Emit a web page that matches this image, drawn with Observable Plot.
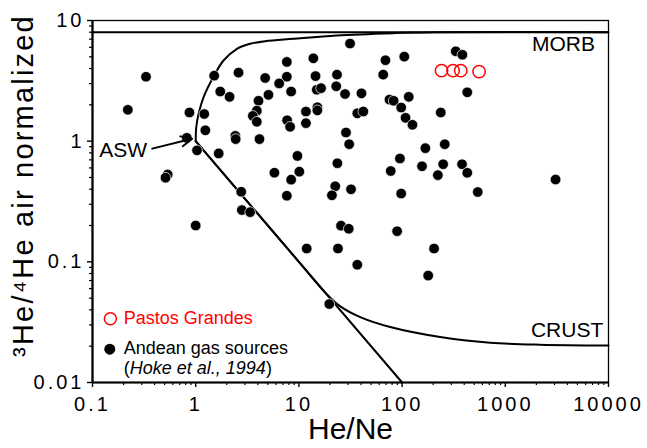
<!DOCTYPE html>
<html>
<head>
<meta charset="utf-8">
<script src="https://cdn.jsdelivr.net/npm/d3@7"></script>
<script src="https://cdn.jsdelivr.net/npm/@observablehq/plot@0.6"></script>
<style>
  body { margin: 0; background: #fff; }
  svg { font-family: "Liberation Sans", Arial, sans-serif; }
  g[aria-label="x-axis tick label"] text,
  g[aria-label="y-axis tick label"] text { letter-spacing: 3px; }
</style>
</head>
<body>
<div id="chart"></div>
<script>
// ---- tick labels ----
const xTicks = [0.1, 1, 10, 100, 1000, 10000];
const yTicks = [0.01, 0.1, 1, 10];
const xLabel = "He/Ne";
const yLabel = "³He/⁴He air normalized";

// ---- Andean gas sources (Hoke et al., 1994) ----
const andeanHeNe = [0.33,0.22,1.51,2.60,4.71,1.73,2.13,0.87,1.21,1.24,
  0.82,1.03,1.67,2.42,2.44,4.15,4.06,3.91,3.58,3.91,
  0.535,0.51,2.76,7.64,13.8,31.3,7.64,6.44,8.41,5.07,
  14.5,14.9,16.4,23.4,23.0,28.0,40.4,11.7,15.1,15.1,
  7.69,8.22,11.7,36.8,42.1,28.6,30.7,9.67,5.79,10.1,
  8.41,7.64,23.6,22.5,20.9,32.0,69,105,65.6,75.5,
  82.8,116,98,108,126,168,95.3,156,77.6,98,
  331,384,428,237,259,250,222,381,428,541,
  3070,2.80,3.37,1.0,25.6,30.4,89.5,11.9,23.9,36.8,
  204,179,19.7];
const andeanRatio = [3.42,1.82,3.49,3.70,3.34,2.58,2.33,1.73,1.68,1.23,
  1.065,0.839,0.792,1.107,1.04,1.04,2.16,1.79,1.62,1.447,
  0.530,0.498,0.381,4.54,4.86,6.44,3.42,3.01,2.58,2.42,
  3.46,2.67,2.75,3.56,2.85,2.46,2.49,1.76,1.91,1.80,
  1.49,1.315,1.41,1.70,1.76,1.18,0.944,0.755,0.548,0.559,
  0.480,0.353,0.656,0.423,0.356,0.399,4.69,5.02,3.56,2.21,
  2.16,2.33,1.90,1.56,1.366,0.875,0.719,0.620,0.566,0.368,
  5.56,5.20,2.54,1.73,0.944,0.644,0.523,0.644,0.547,0.379,
  0.481,0.2685,0.258,0.200,0.1995,0.188,0.1795,0.129,0.129,0.0946,
  0.129,0.0769,0.0447];

// ---- Pastos Grandes ----
const pastosHeNe = [241, 312, 370, 557];
const pastosRatio = [3.84, 3.84, 3.84, 3.77];

// ---- reference lines ----
const morbRatio = [8];
const aswMorbHeNe  = [1, 1.013, 1.067, 1.19, 1.51, 1.86, 2.51, 3.37, 4.71, 8.85, 23.3, 82, 207, 10000];
const aswMorbRatio = [1, 1.31, 1.69, 2.31, 3.50, 4.66, 5.83, 6.41, 6.74, 7.05, 7.51, 7.85, 8.0, 8.0];
const crustHeNe  = [1, 10, 18, 25.2, 39.3, 76.7, 234, 713, 2175, 10000];
const crustRatio = [1, 0.1, 0.0556, 0.0427, 0.0348, 0.0288, 0.0238, 0.0214, 0.0206, 0.0203];
const aswLineHeNe  = [1, 100];
const aswLineRatio = [1, 0.01];

// ---- annotations ----
const labelText = ["MORB", "CRUST", "ASW"];
const labelHeNe = [7400, 8900, 0.338];
const labelRatio = [6.33, 0.027, 0.838];
const arrowFrom = [0.379, 0.867];
const arrowTo = [0.923, 1.049];
const legendText = ["Pastos Grandes", "Andean gas sources", "(Hoke et al., 1994)"];
const legendTextHeNe = 0.201;
const legendTextRatio = [0.034, 0.0193, 0.01325];
const legendSymHeNe = [0.149, 0.147];
const legendSymRatio = [0.0338, 0.0189];

const zip = (xs, ys) => xs.map((x, i) => ({x, y: ys[i]}));
const andean = zip(andeanHeNe, andeanRatio);
const pastos = zip(pastosHeNe, pastosRatio);
const aswMorb = zip(aswMorbHeNe, aswMorbRatio);
const crust = zip(crustHeNe, crustRatio);
const aswLine = zip(aswLineHeNe, aswLineRatio);
const labels = labelText.map((t, i) => ({t, x: labelHeNe[i], y: labelRatio[i]}));
const legendRows = legendText.map((t, i) => ({t, x: legendTextHeNe, y: legendTextRatio[i], c: i === 0 ? "#ff0000" : "black"}));

const mult = [2,3,4,5,6,7,8,9];
const minorX = xTicks.slice(0, -1).flatMap(d => mult.map(k => d * k));
const minorY = yTicks.slice(0, -1).flatMap(d => mult.map(k => d * k));

const chart = Plot.plot({
  width: 647,
  height: 448,
  marginLeft: 92,
  marginRight: 39,
  marginTop: 20,
  marginBottom: 66,
  style: {background: "white", color: "black", fontFamily: "Liberation Sans, Arial, sans-serif"},
  x: {type: "log", domain: [0.1, 10000], label: null},
  y: {type: "log", domain: [0.01, 10], label: null},
  marks: [
    Plot.axisX(minorX, {tickSize: 3, tickFormat: () => "", label: null, strokeWidth: 1.2}),
    Plot.axisX(xTicks, {tickSize: 5, tickPadding: 9, tickFormat: d => String(d), fontSize: 20, label: null, strokeWidth: 1.4}),
    Plot.axisY(minorY, {tickSize: 3, tickFormat: () => "", label: null, strokeWidth: 1.2}),
    Plot.axisY(yTicks, {tickSize: 5, tickPadding: 3, tickFormat: d => String(d), fontSize: 20, label: null, strokeWidth: 1.4}),
    Plot.text([xLabel], {frameAnchor: "bottom", dy: 56, lineAnchor: "bottom", fontSize: 30, fill: "black"}),
    Plot.text([yLabel], {frameAnchor: "left", rotate: -90, dx: -69, dy: -16, textAnchor: "middle", lineAnchor: "middle", fontSize: 29, fill: "black"}),
    Plot.ruleY(morbRatio, {strokeWidth: 2}),
    Plot.line(aswMorb, {x: "x", y: "y", curve: "catmull-rom", strokeWidth: 2}),
    Plot.line(crust, {x: "x", y: "y", curve: "catmull-rom", strokeWidth: 2}),
    Plot.line(aswLine, {x: "x", y: "y", strokeWidth: 2}),
    Plot.dot(andean, {x: "x", y: "y", r: 5.3, fill: "black", stroke: "white", strokeWidth: 0.7}),
    Plot.dot(pastos, {x: "x", y: "y", r: 6.2, fill: "none", stroke: "#ff0000", strokeWidth: 1.5}),
    Plot.text(labels, {x: "x", y: "y", text: "t", textAnchor: "end", lineAnchor: "middle", fontSize: 21, fill: "black"}),
    Plot.arrow([{x1: arrowFrom[0], y1: arrowFrom[1], x2: arrowTo[0], y2: arrowTo[1]}],
      {x1: "x1", y1: "y1", x2: "x2", y2: "y2", strokeWidth: 2, headLength: 9, headAngle: 50}),
    Plot.dot([{x: legendSymHeNe[0], y: legendSymRatio[0]}], {x: "x", y: "y", r: 6, fill: "none", stroke: "#ff0000", strokeWidth: 1.5}),
    Plot.dot([{x: legendSymHeNe[1], y: legendSymRatio[1]}], {x: "x", y: "y", r: 5.5, fill: "black"}),
    Plot.text(legendRows, {x: "x", y: "y", text: "t", fill: "c", textAnchor: "start", lineAnchor: "middle", fontSize: 18}),
    Plot.frame({strokeWidth: 1.3}),
    Plot.ruleX([xTicks[0]], {strokeWidth: 2.2}),
    Plot.ruleY([yTicks[0]], {strokeWidth: 2.2})
  ]
});

document.getElementById("chart").appendChild(chart);

// italic citation and y-label spacing
d3.select(chart).selectAll("text").each(function() {
  const t = this.textContent;
  if (t === legendText[2]) {
    const el = d3.select(this);
    el.text(null);
    el.append("tspan").text("(");
    el.append("tspan").attr("font-style", "italic").text("Hoke et al., 1994");
    el.append("tspan").text(")");
  } else if (t === yLabel) {
    d3.select(this).style("letter-spacing", "2.2px");
  }
});
</script>
</body>
</html>
